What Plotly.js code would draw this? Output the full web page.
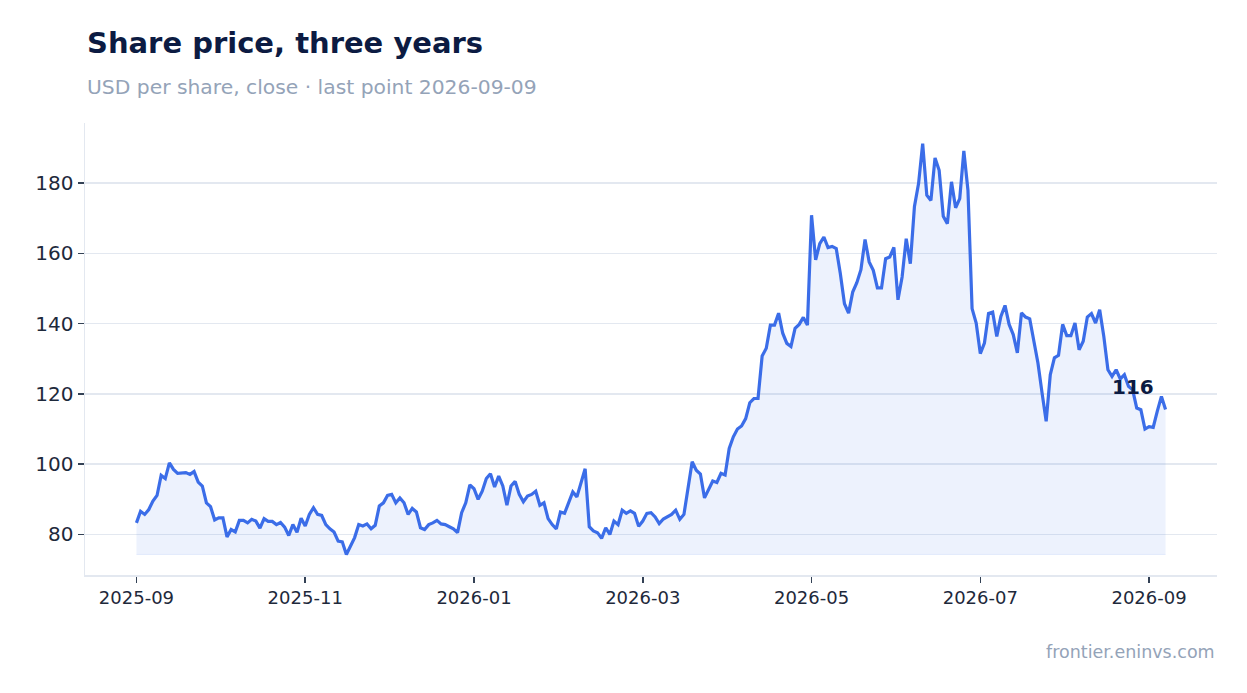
<!DOCTYPE html>
<html>
<head>
<meta charset="utf-8">
<script src="https://cdn.plot.ly/plotly-3.0.1.min.js"></script>
<style>
  html, body { margin: 0; padding: 0; background: #ffffff; }
  #chart { width: 1247px; height: 693px; }
</style>
</head>
<body>
<div id="chart"></div>
<script>
// Closing share price (USD), one value per trading session, oldest first
const closePrices = [
  83.3, 86.6, 85.7, 87.1, 89.5, 91.1, 96.8, 95.9, 100.4, 98.5,
  97.4, 97.4, 97.6, 97.1, 97.9, 94.9, 93.8, 89.0, 87.9, 84.1,
  84.7, 84.7, 79.3, 81.4, 80.7, 84.0, 84.0, 83.3, 84.3, 83.8,
  81.8, 84.5, 83.7, 83.7, 82.8, 83.4, 82.1, 79.7, 82.8, 80.6,
  84.6, 82.4, 85.7, 87.6, 85.7, 85.4, 82.8, 81.6, 80.7, 78.1,
  77.9, 74.3, 76.9, 79.1, 82.8, 82.4, 83.0, 81.6, 82.6, 88.1,
  89.0, 91.1, 91.4, 89.0, 90.4, 89.0, 85.7, 87.4, 86.4, 81.9,
  81.4, 82.8, 83.3, 84.0, 83.0, 82.8, 82.2, 81.6, 80.5, 86.2,
  89.0, 94.1, 93.0, 90.0, 92.3, 95.9, 97.3, 93.5, 96.6, 93.8,
  88.3, 93.8, 95.1, 91.4, 89.3, 90.9, 91.4, 92.3, 88.3, 89.0,
  84.5, 82.8, 81.6, 86.4, 86.0, 89.0, 92.1, 90.7, 94.7, 98.7,
  82.2, 81.0, 80.5, 78.9, 81.9, 80.0, 83.8, 82.8, 86.9, 86.0,
  86.7, 86.0, 82.3, 83.8, 86.0, 86.2, 85.0, 83.1, 84.4, 85.0,
  85.7, 86.9, 84.3, 85.7, 93.6, 100.7, 98.3, 97.2, 90.4, 92.6,
  95.2, 94.8, 97.4, 96.9, 104.5, 107.8, 110.0, 110.9, 113.0, 117.5,
  118.7, 118.7, 130.8, 133.0, 139.6, 139.6, 143.0, 137.3, 134.4, 133.5,
  138.7, 139.8, 141.8, 139.6, 170.9, 158.2, 162.8, 164.7, 161.7, 162.0,
  161.4, 154.2, 145.7, 143.0, 149.0, 151.7, 155.4, 164.0, 157.6, 155.2,
  150.2, 150.2, 158.5, 159.0, 161.7, 146.8, 153.3, 164.2, 157.1, 173.4,
  179.9, 191.3, 176.6, 175.1, 187.2, 183.7, 170.6, 168.5, 180.4, 173.0,
  175.6, 189.2, 178.0, 144.3, 140.2, 131.5, 134.5, 142.9, 143.3, 136.4,
  142.1, 145.2, 139.8, 136.9, 131.7, 143.1, 141.9, 141.4, 135.0, 128.8,
  120.3, 112.2, 125.5, 130.3, 131.0, 139.8, 136.6, 136.6, 140.2, 132.6,
  135.0, 141.9, 142.9, 140.2, 144.0, 136.4, 126.9, 125.0, 126.9, 124.3,
  125.5, 122.2, 121.2, 116.0, 115.5, 110.0, 110.7, 110.5, 115.1, 119.3,
  115.6
];

// Axis tick labels (one every 41 sessions)
const tickLabels = ["2025-09", "2025-11", "2026-01", "2026-03", "2026-05", "2026-07", "2026-09"];
const sessionsPerTick = 41;

const titleText = "Share price, three years";
const subtitleText = "USD per share, close · last point 2026-09-09";
const sourceText = "frontier.eninvs.com";

// ---- build chart ----
const n = closePrices.length;
const xs = closePrices.map((_, i) => i);
const floorVal = Math.min(...closePrices);
const baseline = closePrices.map(() => floorVal);
const tickVals = tickLabels.map((_, k) => k * sessionsPerTick);
const lastVal = closePrices[n - 1];

const FONT = "DejaVu Sans, sans-serif";
const LINE = "#3b6de8";
const GRID = "#e3e8f0";
const DARK = "#0c1b42";

const traces = [
  {
    x: xs, y: baseline, type: "scatter", mode: "lines",
    line: { color: "rgba(59,109,232,0.10)", width: 1 },
    hoverinfo: "skip", showlegend: false
  },
  {
    x: xs, y: closePrices, type: "scatter", mode: "lines",
    line: { color: LINE, width: 3.2 },
    fill: "tonexty", fillcolor: "rgba(59,109,232,0.09)",
    showlegend: false
  }
];

const pad = (n - 1) * 0.05;
const ySpan = Math.max(...closePrices) - floorVal;

const layout = {
  width: 1247, height: 693,
  paper_bgcolor: "#ffffff", plot_bgcolor: "#ffffff",
  margin: { l: 85, r: 30, t: 123, b: 118 },
  font: { family: FONT, color: "#1e293b" },
  showlegend: false,
  xaxis: {
    type: "linear",
    range: [-pad, (n - 1) + pad],
    tickmode: "array", tickvals: tickVals, ticktext: tickLabels,
    ticks: "outside", ticklen: 6, tickwidth: 1.5, tickcolor: "#334155",
    tickfont: { size: 18, color: "#1e293b", family: FONT },
    showgrid: false, zeroline: false,
    showline: true, linecolor: GRID, linewidth: 1.5
  },
  yaxis: {
    range: [floorVal - ySpan * 0.05, floorVal + ySpan * 1.05],
    tickmode: "linear", tick0: 0, dtick: 20,
    ticks: "outside", ticklen: 6, tickwidth: 1.5, tickcolor: "#334155",
    tickfont: { size: 20, color: "#1e293b", family: FONT },
    showgrid: true, gridcolor: GRID, gridwidth: 1.5,
    zeroline: false,
    showline: true, linecolor: GRID, linewidth: 1.5
  },
  annotations: [
    {
      text: "<b>" + titleText + "</b>", xref: "paper", yref: "paper",
      x: 0, y: 1.177, xanchor: "left", yanchor: "middle", showarrow: false,
      font: { size: 29, color: DARK, family: FONT }
    },
    {
      text: subtitleText, xref: "paper", yref: "paper",
      x: 0, y: 1.08, xanchor: "left", yanchor: "middle", showarrow: false,
      font: { size: 20.3, color: "#94a3b8", family: FONT }
    },
    {
      text: sourceText, xref: "paper", yref: "paper",
      x: 1, y: -0.17, xanchor: "right", yanchor: "middle", showarrow: false,
      font: { size: 17.5, color: "#94a3b8", family: FONT }
    },
    {
      text: "<b>" + Math.round(lastVal) + "</b>", x: n - 1, y: lastVal,
      xref: "x", yref: "y", showarrow: false,
      xanchor: "center", yanchor: "middle", xshift: -33, yshift: 22,
      font: { size: 20, color: DARK, family: FONT }
    }
  ]
};

Plotly.newPlot("chart", traces, layout, { displayModeBar: false, staticPlot: true });
</script>
</body>
</html>
